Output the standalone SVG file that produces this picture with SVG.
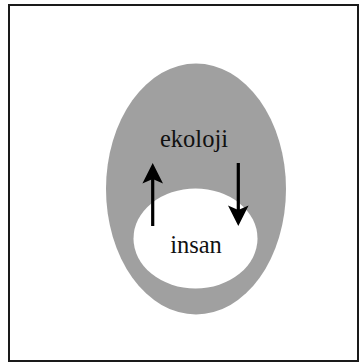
<svg xmlns="http://www.w3.org/2000/svg" width="359" height="364" viewBox="0 0 359 364">
  <style>
    .frame { fill: #ffffff; stroke: #1a1a1a; stroke-width: 2; }
    .label { font-family: "Liberation Serif", "Times New Roman", serif; font-size: 24.5px; fill: #111111; text-anchor: middle; }
    .shaft { stroke: #000000; stroke-width: 3.2; fill: none; }
    .head { fill: #000000; }
  </style>
  <rect class="frame" x="9" y="5" width="349" height="356"/>

  <g id="ekoloji">
    <ellipse cx="196" cy="189" rx="90" ry="125.5" fill="#a0a0a0"/>
    <text class="label" x="194" y="146.5">ekoloji</text>
  </g>

  <g id="insan">
    <ellipse cx="195.5" cy="238.5" rx="62" ry="50" fill="#ffffff"/>
    <text class="label" x="196" y="253">insan</text>
  </g>

  <g id="connectors">
    <!-- insan to ekoloji (upward) -->
    <line class="shaft" x1="152.7" y1="226" x2="152.7" y2="178"/>
    <path class="head" d="M152.7,163 L163,183.5 L152.7,179 L142.4,183.5 Z"/>
    <!-- ekoloji to insan (downward) -->
    <line class="shaft" x1="238.3" y1="163" x2="238.3" y2="211"/>
    <path class="head" d="M238.3,226 L228,205.5 L238.3,210 L248.6,205.5 Z"/>
  </g>
</svg>
